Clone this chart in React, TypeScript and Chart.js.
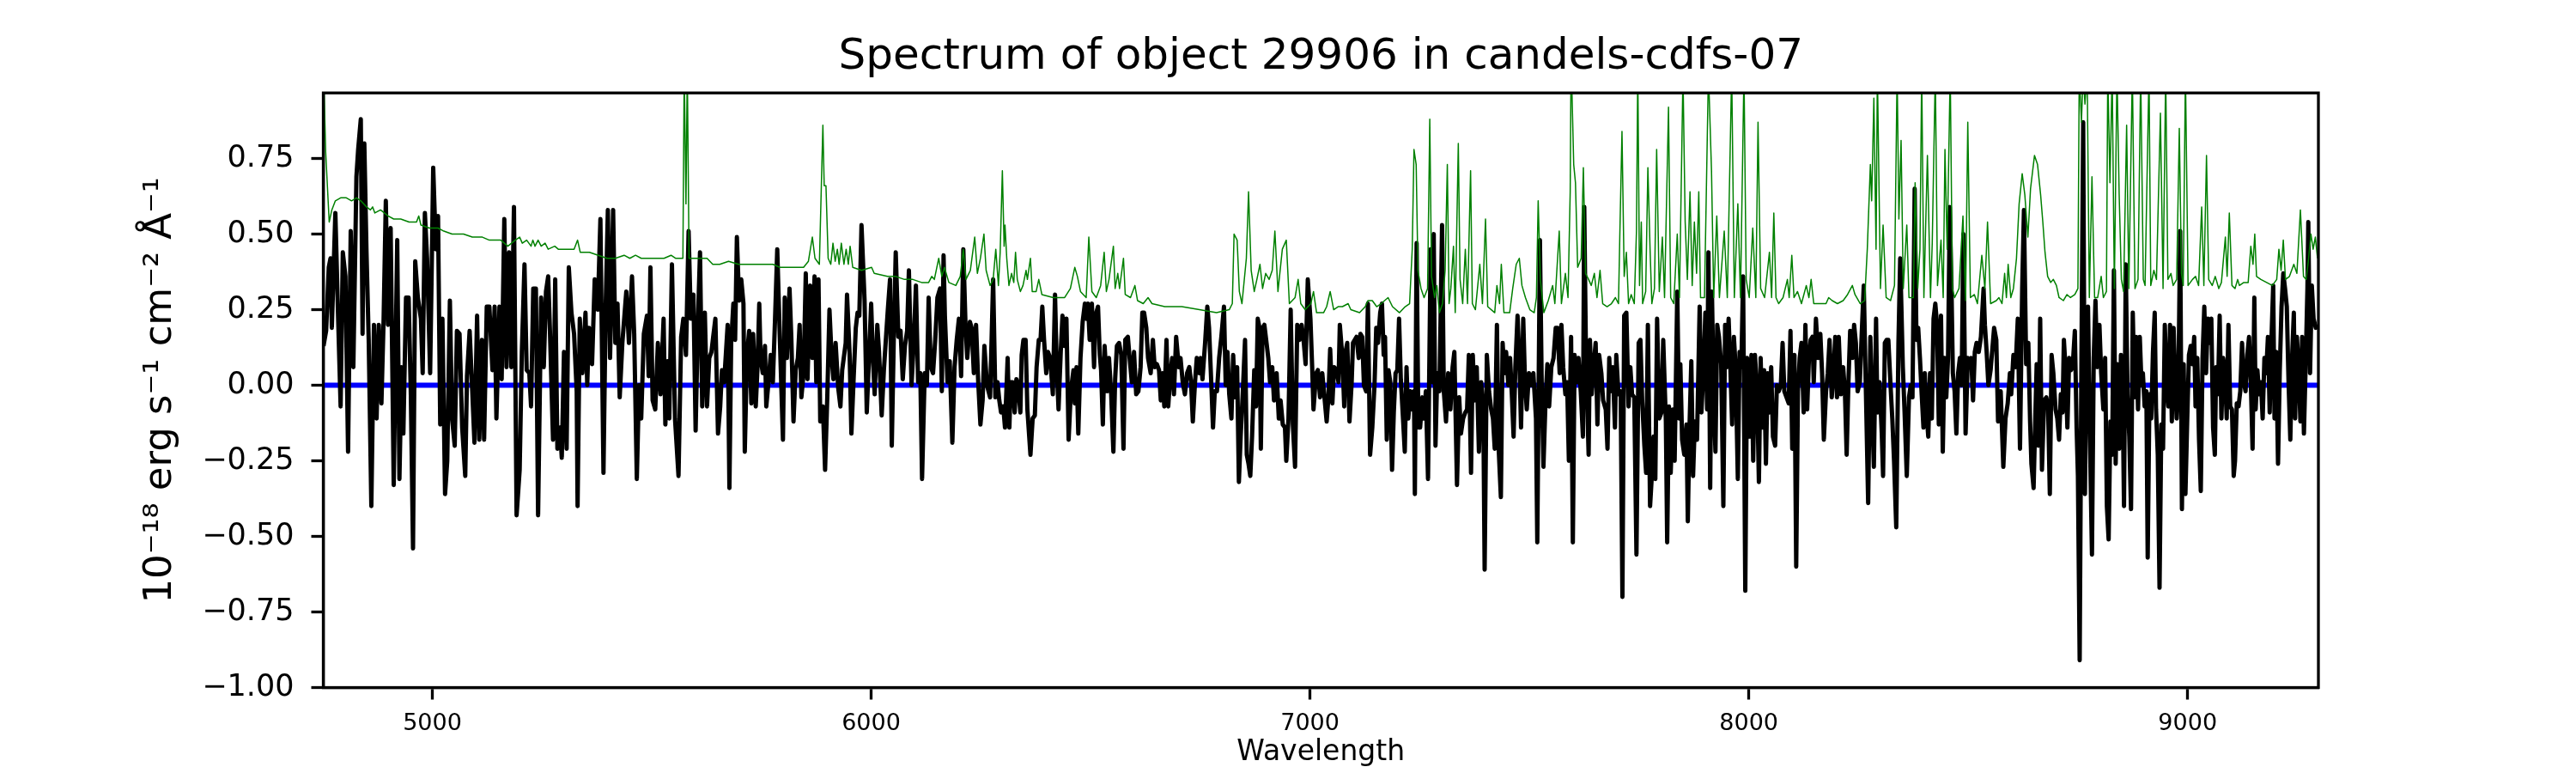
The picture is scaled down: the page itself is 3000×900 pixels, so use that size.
import { useEffect, useRef } from 'react';
import { Chart, registerables } from 'chart.js';

Chart.register(...registerables);

const FONT = "'DejaVu Sans', sans-serif";
const TITLE = 'Spectrum of object 29906 in candels-cdfs-07';
const X_LABEL = 'Wavelength';
const Y_LABEL = '10⁻¹⁸ erg s⁻¹ cm⁻² Å⁻¹';

const X_MIN = 4751.5;
const X_MAX = 9298;
const Y_MIN = -1.0;
const Y_MAX = 0.967;
const X_TICKS = [5000, 6000, 7000, 8000, 9000];
const Y_TICKS = [-1, -0.75, -0.5, -0.25, 0, 0.25, 0.5, 0.75];

// Observed flux [wavelength, flux]
const FLUX_A = [[4752,0.13],[4758,0.18],[4764,0.39],[4768,0.42],[4771,0.19],[4779,0.57],[4785,0.24],[4791,-0.07],[4796,0.44],[4802,0.36],[4808,-0.22],[4814,0.51],[4820,0.06],[4827,0.69],[4831,0.78],[4837,0.88],[4841,0.17],[4845,0.80],[4850,0.44],[4855,0.15],[4861,-0.40],[4867,0.20],[4873,-0.11],[4878,0.20],[4884,-0.06],[4889,0.22],[4894,0.61],[4899,0.20],[4905,0.52],[4912,-0.33],[4920,0.48],[4925,-0.31],[4930,0.06],[4934,-0.16],[4940,0.29],[4946,0.29],[4951,-0.03],[4956,-0.54],[4961,0.41],[4967,0.29],[4974,0.22],[4978,0.04],[4983,0.57],[4988,0.42],[4995,0.04],[5002,0.72],[5008,0.45],[5013,0.56],[5018,-0.13],[5023,0.22],[5029,-0.36],[5034,-0.25],[5040,0.28],[5045,-0.11],[5051,-0.20],[5056,0.18],[5062,0.17],[5068,-0.14],[5075,-0.30],[5079,0.03],[5085,0.18],[5091,-0.02],[5096,-0.19],[5102,0.23],[5107,-0.18],[5113,0.15],[5118,-0.18],[5124,0.26],[5130,0.26],[5137,0.05],[5142,0.26],[5146,-0.11],[5153,0.26],[5158,0.02],[5164,0.55],[5169,0.06],[5175,0.44],[5180,0.06],[5186,0.59],[5192,-0.43],[5199,-0.28],[5204,0.11],[5210,0.40],[5215,0.05],[5221,0.04],[5225,-0.07],[5230,0.32],[5236,0.32],[5241,-0.43],[5248,0.29],[5254,0.06],[5259,0.31],[5264,0.36],[5268,0.18],[5275,-0.18],[5280,0.35],[5285,-0.21],[5291,-0.14],[5295,-0.24],[5300,0.11],[5306,-0.21],[5311,0.39],[5317,0.24],[5323,0.17],[5329,-0.02],[5331,-0.40],[5336,0.22],[5342,0.04],[5349,0.24],[5353,0.00],[5357,0.19],[5364,0.07],[5370,0.35],[5377,0.25],[5383,0.55],[5390,-0.29],[5395,0.26],[5400,0.58],[5405,0.09],[5412,0.58],[5417,0.14],[5422,0.27],[5427,-0.04],[5433,0.14],[5442,0.31],[5448,0.14],[5455,0.36],[5460,0.17],[5466,-0.31],[5471,0.00],[5476,-0.11],[5482,0.17],[5489,0.23],[5493,0.03],[5497,0.39],[5502,-0.05]];
const FLUX_B = [[5508,-0.08],[5514,0.14],[5520,-0.03],[5527,0.22],[5531,-0.13],[5536,0.08],[5540,-0.11],[5546,0.40],[5553,-0.11],[5561,-0.30],[5567,0.16],[5572,0.22],[5578,0.10],[5584,0.51],[5589,0.22],[5595,0.30],[5600,-0.15],[5605,0.20],[5610,0.44],[5615,-0.07],[5621,0.24],[5626,-0.07],[5631,0.09],[5636,0.11],[5640,0.16],[5645,0.22],[5651,-0.16],[5656,-0.07],[5660,0.05],[5665,0.01],[5673,0.20],[5677,-0.34],[5681,0.14],[5686,0.27],[5690,0.15],[5694,0.49],[5699,0.28],[5704,0.35],[5709,0.27],[5712,-0.22],[5717,0.10],[5722,0.18],[5727,-0.06],[5731,0.17],[5737,-0.07],[5741,0.06],[5745,0.27],[5748,0.09],[5753,0.04],[5758,0.13],[5761,-0.07],[5766,0.01],[5771,0.10],[5776,0.01],[5781,0.22],[5786,0.45],[5792,0.15],[5799,-0.18],[5803,0.29],[5808,0.09],[5814,0.32],[5818,0.16],[5823,-0.12],[5828,0.05],[5833,0.09],[5837,0.20],[5841,-0.04],[5846,0.04],[5851,0.37],[5855,0.02],[5861,0.33],[5866,0.09],[5871,0.36],[5875,0.01],[5880,0.35],[5884,-0.12],[5890,-0.07],[5895,-0.28],[5900,-0.04],[5905,0.25],[5910,0.09],[5914,0.02],[5919,0.14],[5925,-0.01],[5930,-0.07],[5934,0.05],[5942,0.14],[5945,0.30],[5951,0.10],[5955,-0.16],[5960,0.02],[5965,0.19],[5969,0.24],[5973,0.23],[5978,0.53],[5985,0.28],[5990,-0.09],[5995,0.09],[6000,0.27],[6004,0.09],[6008,-0.03],[6014,0.20],[6018,0.11],[6024,-0.10],[6029,0.05],[6033,0.14],[6038,0.25],[6043,0.35],[6047,-0.20],[6052,0.19],[6056,0.44],[6062,0.16],[6067,0.18],[6072,0.02],[6077,0.13],[6082,0.18],[6086,0.38],[6092,0.00],[6097,0.14],[6102,0.33],[6107,0.01],[6112,0.04],[6116,-0.31],[6122,0.04],[6127,0.00],[6131,0.29],[6136,0.06],[6141,0.04],[6146,0.15],[6151,0.29],[6157,0.32],[6161,-0.02],[6165,0.43],[6168,0.23],[6174,0.01],[6179,0.08],[6185,-0.19],[6190,0.06],[6195,0.15],[6200,0.22],[6205,0.03],[6210,0.45],[6215,0.20],[6219,0.09],[6225,0.21],[6229,0.19],[6234,0.04],[6239,0.20],[6244,0.01],[6249,-0.13],[6254,-0.05],[6258,0.13],[6264,0.00]];
const FLUX_C = [[6271,-0.04],[6278,0.35],[6283,-0.04],[6288,0.01],[6292,-0.05],[6296,-0.09],[6301,-0.07],[6305,-0.14],[6311,0.09],[6315,-0.14],[6318,0.01],[6322,0.01],[6327,-0.09],[6331,0.02],[6335,0.00],[6340,-0.09],[6343,0.10],[6347,0.15],[6352,0.15],[6356,-0.08],[6363,-0.23],[6368,-0.11],[6373,-0.10],[6377,0.06],[6382,0.15],[6386,0.15],[6390,0.26],[6394,0.15],[6399,0.04],[6403,0.11],[6408,0.09],[6414,-0.03],[6419,0.30],[6423,0.06],[6427,-0.08],[6432,0.11],[6436,0.23],[6440,0.13],[6445,0.22],[6450,-0.18],[6455,-0.02],[6461,0.05],[6464,-0.06],[6468,0.06],[6472,-0.16],[6477,0.09],[6482,0.21],[6487,0.27],[6491,0.22],[6494,0.27],[6498,0.15],[6503,0.27],[6508,0.06],[6511,0.23],[6517,0.26],[6521,0.10],[6524,0.05],[6528,-0.13],[6532,0.13],[6538,-0.02],[6542,0.09],[6547,-0.03],[6552,-0.22],[6556,0.02],[6560,0.13],[6565,0.14],[6570,0.10],[6575,-0.21],[6579,0.15],[6585,0.16],[6589,0.09],[6594,0.01],[6599,0.11],[6604,-0.03],[6609,-0.02],[6614,0.06],[6618,0.24],[6622,0.24],[6627,0.19],[6631,0.09],[6637,0.04],[6642,0.15],[6646,0.06],[6651,0.07],[6656,0.05],[6660,-0.05],[6664,0.04],[6668,-0.07],[6673,0.15],[6677,-0.07],[6682,0.04],[6686,0.09],[6690,-0.03],[6695,0.16],[6701,0.06],[6705,0.09],[6710,0.01],[6715,-0.03],[6720,0.04],[6725,0.06],[6729,0.01],[6733,-0.12],[6738,0.01],[6742,0.09],[6748,0.04],[6751,0.09],[6755,0.02],[6761,0.14],[6766,0.26],[6770,0.19],[6775,0.01],[6779,-0.14],[6783,-0.02],[6788,-0.02],[6793,0.09],[6798,0.16],[6804,0.26],[6808,0.00],[6812,0.11],[6816,-0.03],[6821,-0.11],[6825,0.10],[6829,-0.04],[6834,0.06],[6838,-0.32],[6842,-0.17],[6847,-0.02],[6852,0.15],[6856,-0.23],[6860,-0.26],[6864,-0.30],[6868,-0.17],[6873,0.05],[6877,-0.07],[6881,0.22],[6885,0.19],[6888,-0.21],[6892,0.19],[6896,0.20],[6901,0.14],[6905,0.09],[6909,0.01],[6914,0.06],[6918,-0.05],[6924,0.04],[6929,-0.11],[6933,-0.05],[6938,-0.13],[6943,-0.14],[6946,-0.25],[6951,-0.11],[6956,0.25],[6961,-0.13],[6966,-0.27],[6971,0.20],[6976,0.15],[6981,0.20],[6986,0.14],[6990,0.07],[6995,0.35],[7001,0.22],[7005,0.06],[7008,-0.08],[7014,0.04],[7018,0.05],[7023,-0.04],[7028,0.04]];
const FLUX_D = [[7033,-0.04],[7038,-0.12],[7042,-0.04],[7046,0.12],[7051,-0.06],[7055,0.06],[7061,0.05],[7065,0.01],[7068,0.20],[7074,0.09],[7078,-0.07],[7081,0.11],[7085,0.14],[7090,-0.12],[7095,0.01],[7098,0.14],[7102,0.15],[7106,0.16],[7111,0.09],[7115,0.17],[7119,0.16],[7123,0.00],[7128,-0.02],[7132,0.27],[7137,-0.23],[7142,-0.14],[7147,0.00],[7151,0.19],[7155,0.14],[7160,0.24],[7164,0.27],[7168,0.10],[7171,0.16],[7175,-0.18],[7179,0.05],[7183,0.01],[7187,-0.28],[7191,-0.09],[7195,0.04],[7199,0.05],[7203,0.22],[7207,0.02],[7212,-0.11],[7216,-0.22],[7220,0.06],[7224,-0.11],[7229,-0.02],[7233,-0.08],[7237,-0.02],[7239,-0.36],[7243,0.47],[7247,-0.14],[7251,-0.14],[7256,-0.04],[7260,-0.11],[7264,-0.02],[7269,-0.31],[7275,0.45],[7279,0.01],[7282,0.50],[7286,-0.20],[7290,0.04],[7295,-0.02],[7301,0.53],[7305,-0.02],[7310,-0.12],[7315,0.04],[7320,-0.08],[7325,0.06],[7329,0.11],[7335,-0.33],[7340,-0.04],[7344,-0.16],[7349,-0.11],[7354,-0.09],[7358,-0.08],[7362,0.10],[7367,-0.29],[7371,0.10],[7375,-0.05],[7380,0.06],[7385,-0.22],[7390,0.01],[7395,-0.08],[7398,-0.61],[7403,0.10],[7408,-0.02],[7413,-0.08],[7417,-0.11],[7421,-0.21],[7426,0.20],[7430,-0.21],[7435,-0.37],[7439,0.14],[7443,0.04],[7447,0.11],[7452,0.00],[7456,0.09],[7460,-0.03],[7464,-0.17],[7468,0.06],[7473,0.23],[7477,0.09],[7481,-0.14],[7486,0.22],[7490,0.01],[7494,-0.08],[7499,0.04],[7504,0.00],[7509,0.04],[7515,-0.11],[7518,-0.52],[7524,0.48],[7528,0.01],[7532,-0.27],[7537,-0.04],[7541,0.07],[7545,-0.07],[7550,0.06],[7555,0.09],[7560,0.19],[7564,0.19],[7569,0.04],[7573,0.20],[7577,0.06],[7582,-0.03],[7586,0.01],[7590,-0.25],[7595,0.16],[7599,-0.52],[7603,0.10],[7608,0.01],[7612,0.09],[7617,-0.02],[7622,-0.17],[7625,0.59],[7629,0.09],[7635,-0.23],[7638,0.15],[7642,-0.03],[7646,0.06],[7651,0.14],[7655,-0.13],[7659,0.10],[7664,0.04],[7668,-0.05],[7674,-0.08],[7678,-0.21],[7682,0.09],[7685,-0.02],[7690,0.06],[7695,-0.14],[7698,0.10],[7703,-0.03],[7708,-0.02],[7712,-0.70],[7716,0.23],[7721,0.24],[7726,-0.07],[7730,0.06],[7734,-0.03],[7739,-0.04],[7744,-0.56],[7749,0.14],[7753,0.15],[7757,-0.05],[7762,-0.20],[7766,-0.29],[7770,0.20],[7775,-0.40],[7779,-0.30],[7783,-0.17],[7787,-0.31],[7791,0.22]];
const FLUX_E = [[7796,-0.11],[7801,-0.09],[7805,0.15],[7811,-0.12],[7814,-0.52],[7818,-0.07],[7822,-0.29],[7827,-0.08],[7831,-0.25],[7837,0.31],[7841,-0.11],[7844,0.07],[7848,-0.18],[7853,-0.23],[7858,-0.13],[7861,-0.45],[7865,-0.13],[7869,0.08],[7873,-0.30],[7877,-0.12],[7882,-0.18],[7888,0.26],[7892,-0.09],[7897,0.06],[7901,0.24],[7905,-0.08],[7908,0.44],[7912,-0.34],[7916,0.31],[7920,-0.04],[7924,-0.22],[7928,0.20],[7932,0.16],[7937,0.07],[7942,-0.40],[7946,0.20],[7950,0.06],[7954,0.22],[7958,0.06],[7962,-0.13],[7966,0.16],[7970,0.06],[7975,-0.31],[7979,0.11],[7983,0.06],[7987,0.36],[7992,-0.68],[7996,0.09],[8001,-0.17],[8006,0.10],[8010,-0.25],[8014,0.10],[8019,-0.02],[8023,-0.32],[8027,0.09],[8031,-0.14],[8035,0.05],[8039,-0.26],[8043,0.04],[8047,-0.09],[8051,0.06],[8055,-0.17],[8060,-0.20],[8064,0.00],[8068,-0.02],[8073,0.00],[8077,0.14],[8081,-0.02],[8086,-0.04],[8091,-0.06],[8095,0.18],[8099,-0.21],[8104,0.10],[8108,-0.60],[8112,-0.02],[8116,0.09],[8120,0.14],[8125,-0.09],[8129,0.20],[8133,-0.08],[8137,0.09],[8141,0.15],[8145,0.16],[8148,0.01],[8153,0.22],[8158,0.09],[8163,0.17],[8167,0.04],[8171,-0.18],[8176,-0.02],[8180,0.04],[8184,0.15],[8189,-0.04],[8193,0.04],[8197,0.16],[8201,-0.04],[8205,0.16],[8210,-0.03],[8215,0.06],[8219,-0.02],[8223,-0.23],[8227,0.01],[8231,0.18],[8236,0.09],[8240,0.20],[8244,0.14],[8248,-0.02],[8253,0.01],[8257,0.16],[8262,0.33],[8267,-0.03],[8272,-0.39],[8277,0.16],[8281,-0.08],[8285,-0.27],[8290,0.22],[8293,-0.09],[8298,0.01],[8303,-0.16],[8306,-0.30],[8310,0.14],[8314,0.15],[8318,0.15],[8323,0.00],[8327,-0.11],[8331,-0.25],[8336,-0.47],[8341,0.14],[8345,0.42],[8351,0.06],[8355,-0.09],[8360,-0.30],[8365,-0.04],[8369,0.00],[8373,-0.04],[8378,0.65],[8382,0.15],[8386,0.19],[8390,0.09],[8394,-0.03],[8398,-0.14],[8401,0.04],[8405,-0.09],[8409,-0.17],[8413,0.04],[8417,-0.11],[8421,0.22],[8425,0.27],[8429,0.20],[8433,-0.13],[8438,0.23],[8442,-0.22],[8446,0.09],[8450,-0.04],[8454,0.09],[8458,0.59],[8462,0.31],[8465,0.04],[8469,-0.02],[8473,-0.16],[8477,0.04],[8481,0.09],[8485,0.00],[8489,0.50],[8494,-0.16],[8499,0.09],[8503,0.06],[8507,0.09],[8511,-0.05],[8515,0.11],[8519,0.14],[8524,0.11],[8529,0.16],[8535,0.32],[8538,0.20],[8542,0.11],[8546,0.00],[8551,0.05]];
const FLUX_F = [[8559,0.19],[8564,0.15],[8568,-0.12],[8574,-0.02],[8580,-0.27],[8585,-0.11],[8590,-0.06],[8595,0.04],[8598,-0.03],[8603,0.10],[8608,0.06],[8613,0.22],[8618,-0.21],[8623,0.32],[8627,0.58],[8632,0.07],[8637,0.14],[8641,-0.12],[8644,-0.26],[8649,-0.34],[8652,-0.16],[8656,0.07],[8660,-0.20],[8664,0.22],[8668,-0.28],[8673,-0.05],[8678,-0.04],[8682,-0.07],[8686,-0.36],[8690,0.10],[8694,0.04],[8699,-0.08],[8703,-0.11],[8707,-0.18],[8711,-0.03],[8715,-0.09],[8718,0.15],[8722,0.05],[8726,-0.14],[8730,0.09],[8734,0.05],[8738,0.06],[8743,0.18],[8747,-0.14],[8750,-0.30],[8754,-0.91],[8758,0.09],[8762,0.87],[8766,-0.36],[8769,0.06],[8773,0.26],[8777,-0.14],[8782,-0.56],[8786,0.09],[8790,0.28],[8794,0.06],[8799,0.20],[8803,0.04],[8808,-0.08],[8812,0.09],[8816,-0.40],[8820,-0.51],[8824,-0.12],[8828,-0.23],[8832,0.38],[8836,-0.26],[8840,0.07],[8844,-0.21],[8848,0.10],[8852,-0.04],[8855,-0.40],[8859,0.40],[8863,-0.03],[8867,-0.17],[8871,-0.41],[8875,0.24],[8879,-0.04],[8883,0.16],[8887,-0.08],[8891,0.16],[8895,0.00],[8898,0.04],[8902,-0.07],[8906,-0.02],[8909,-0.57],[8913,-0.03],[8917,-0.11],[8921,0.11],[8925,0.24],[8928,-0.08],[8932,-0.23],[8936,-0.67],[8940,-0.13],[8944,-0.21],[8948,0.20],[8952,0.01],[8956,-0.07],[8960,0.20],[8964,-0.12],[8968,0.19],[8972,0.00],[8975,-0.11],[8979,0.01],[8983,0.51],[8987,-0.41],[8991,0.07],[8995,-0.36],[8999,-0.12],[9003,0.10],[9007,0.13],[9011,0.07],[9015,0.16],[9018,-0.07],[9022,0.09],[9026,-0.18],[9030,-0.35],[9034,0.09],[9038,0.26],[9042,0.04],[9046,0.22],[9050,0.14],[9054,0.22],[9058,-0.14],[9062,-0.23],[9065,0.06],[9069,-0.03],[9073,0.23],[9077,-0.11],[9081,0.09],[9085,0.05],[9089,-0.11],[9093,0.20],[9097,-0.07],[9101,-0.08],[9105,-0.30],[9108,-0.25],[9112,-0.06],[9116,-0.07],[9120,-0.02],[9124,0.14],[9128,0.01],[9132,-0.02],[9136,0.10],[9140,0.16],[9144,0.01],[9148,-0.21],[9152,0.29],[9155,-0.08],[9159,0.05],[9163,-0.03],[9167,0.01],[9171,-0.11],[9175,0.09],[9179,0.04],[9183,0.16],[9187,-0.09],[9191,0.15],[9195,0.33],[9198,-0.11],[9202,0.11],[9206,-0.26],[9210,0.05],[9214,0.26],[9218,0.37],[9222,0.32],[9226,0.26],[9230,0.01],[9234,-0.18],[9238,0.09],[9242,0.24],[9245,-0.11],[9249,0.16],[9253,0.06],[9257,-0.12],[9261,0.16],[9265,-0.16],[9269,0.07],[9273,0.32],[9275,0.54],[9279,0.04],[9283,0.33],[9287,0.22],[9292,0.19],[9296,0.20]];

// Noise / sky spectrum [wavelength, flux]
const NOISE_A = [[4751,1.10],[4757,0.77],[4765,0.54],[4771,0.58],[4779,0.61],[4791,0.62],[4804,0.62],[4816,0.61],[4827,0.62],[4837,0.61],[4850,0.59],[4859,0.58],[4864,0.59],[4869,0.57],[4882,0.58],[4899,0.56],[4912,0.55],[4928,0.55],[4947,0.54],[4964,0.54],[4969,0.56],[4974,0.53],[4993,0.52],[5013,0.52],[5026,0.51],[5045,0.50],[5071,0.50],[5091,0.49],[5114,0.49],[5130,0.48],[5156,0.48],[5172,0.46],[5189,0.48],[5199,0.49],[5205,0.47],[5215,0.48],[5225,0.46],[5229,0.48],[5234,0.46],[5241,0.48],[5248,0.46],[5257,0.47],[5264,0.45],[5279,0.46],[5287,0.45],[5306,0.45],[5323,0.45],[5331,0.48],[5337,0.44],[5358,0.44],[5378,0.43],[5398,0.42],[5417,0.42],[5437,0.43],[5450,0.42],[5463,0.43],[5476,0.42],[5502,0.42]];
const NOISE_B = [[5528,0.42],[5544,0.43],[5554,0.42],[5567,0.42],[5571,0.42],[5574,1.05],[5578,0.60],[5581,1.05],[5585,0.42],[5600,0.42],[5613,0.42],[5626,0.42],[5639,0.40],[5655,0.40],[5675,0.41],[5698,0.40],[5724,0.40],[5750,0.40],[5776,0.40],[5792,0.39],[5815,0.39],[5846,0.39],[5857,0.41],[5866,0.49],[5872,0.42],[5882,0.40],[5887,0.69],[5890,0.86],[5893,0.66],[5897,0.66],[5902,0.42],[5908,0.40],[5913,0.47],[5918,0.41],[5923,0.45],[5927,0.40],[5932,0.47],[5938,0.40],[5943,0.45],[5948,0.40],[5952,0.46],[5958,0.39],[5978,0.38],[6001,0.39],[6007,0.37],[6037,0.36],[6056,0.36],[6076,0.35],[6095,0.35],[6115,0.34],[6131,0.34],[6138,0.36],[6144,0.35],[6154,0.42],[6161,0.36],[6167,0.39],[6177,0.34],[6193,0.33],[6203,0.36],[6210,0.45],[6216,0.35],[6226,0.38],[6236,0.49],[6242,0.37],[6249,0.42],[6257,0.50],[6262,0.38]];
const NOISE_C = [[6271,0.33],[6278,0.35],[6284,0.45],[6290,0.33],[6294,0.44],[6299,0.71],[6303,0.46],[6305,0.53],[6309,0.42],[6314,0.33],[6320,0.37],[6325,0.34],[6329,0.44],[6333,0.35],[6340,0.31],[6346,0.33],[6353,0.38],[6356,0.35],[6363,0.42],[6367,0.31],[6376,0.31],[6382,0.35],[6389,0.30],[6415,0.29],[6441,0.29],[6454,0.32],[6464,0.39],[6470,0.36],[6477,0.31],[6490,0.29],[6496,0.49],[6503,0.31],[6513,0.29],[6523,0.33],[6531,0.44],[6536,0.31],[6542,0.35],[6552,0.46],[6556,0.32],[6562,0.37],[6566,0.32],[6575,0.42],[6579,0.30],[6591,0.29],[6601,0.33],[6607,0.28],[6620,0.27],[6631,0.29],[6640,0.27],[6669,0.26],[6708,0.26],[6748,0.25],[6787,0.24],[6816,0.25],[6823,0.27],[6827,0.50],[6834,0.48],[6839,0.31],[6845,0.27],[6855,0.42],[6860,0.64],[6866,0.38],[6873,0.31],[6879,0.35],[6886,0.40],[6892,0.32],[6899,0.37],[6907,0.35],[6914,0.38],[6920,0.51],[6927,0.31],[6937,0.45],[6946,0.48],[6953,0.27],[6966,0.29],[6973,0.35],[6979,0.27],[6989,0.25],[7002,0.27],[7008,0.31],[7015,0.24],[7031,0.24]];
const NOISE_D = [[7038,0.26],[7046,0.31],[7054,0.25],[7064,0.26],[7074,0.26],[7087,0.27],[7093,0.25],[7113,0.24],[7126,0.26],[7132,0.28],[7142,0.28],[7152,0.26],[7162,0.27],[7178,0.29],[7188,0.26],[7204,0.24],[7217,0.26],[7227,0.27],[7233,0.45],[7237,0.78],[7242,0.73],[7246,0.38],[7253,0.32],[7260,0.29],[7268,0.32],[7273,0.88],[7277,0.36],[7284,0.29],[7289,0.33],[7295,0.24],[7302,0.27],[7308,0.38],[7313,0.73],[7317,0.27],[7321,0.32],[7327,0.46],[7331,0.24],[7338,0.80],[7342,0.35],[7348,0.27],[7354,0.45],[7359,0.27],[7366,0.71],[7370,0.27],[7377,0.25],[7387,0.40],[7393,0.27],[7400,0.55],[7405,0.26],[7421,0.24],[7426,0.33],[7432,0.27],[7436,0.40],[7442,0.24],[7455,0.24],[7462,0.32],[7470,0.40],[7477,0.42],[7483,0.33],[7491,0.29],[7501,0.25],[7511,0.24],[7516,0.29],[7520,0.61],[7525,0.35],[7533,0.24],[7543,0.28],[7553,0.33],[7558,0.27],[7568,0.51],[7573,0.27],[7582,0.37],[7588,0.29],[7593,0.64],[7595,1.09],[7601,0.73],[7605,0.67],[7610,0.39],[7618,0.42],[7623,0.72],[7628,0.37],[7635,0.35],[7641,0.33],[7648,0.37],[7654,0.29],[7661,0.38],[7667,0.27],[7677,0.26],[7687,0.27],[7696,0.29],[7703,0.27],[7706,0.49],[7711,0.84],[7716,0.36],[7721,0.44],[7726,0.27],[7732,0.30],[7739,0.27],[7744,0.51],[7747,1.05],[7751,0.33],[7755,0.54],[7758,0.27],[7765,0.31],[7770,0.72],[7775,0.45],[7779,0.27],[7785,0.32],[7790,0.78],[7796,0.31]];
const NOISE_E = [[7803,0.49],[7808,0.29],[7817,0.92],[7822,0.29],[7829,0.27],[7837,0.50],[7842,0.29],[7850,1.03],[7855,0.54],[7860,0.35],[7866,0.64],[7871,0.33],[7876,0.54],[7881,0.37],[7886,0.64],[7890,0.29],[7899,0.29],[7908,1.04],[7915,0.71],[7920,0.29],[7927,0.56],[7933,0.29],[7944,0.51],[7951,0.29],[7961,1.04],[7967,0.29],[7975,0.60],[7981,0.29],[7989,1.04],[7994,0.35],[8001,0.29],[8009,0.52],[8016,0.29],[8021,0.87],[8027,0.32],[8036,0.29],[8047,0.44],[8052,0.29],[8057,0.57],[8062,0.29],[8068,0.27],[8078,0.29],[8088,0.35],[8092,0.29],[8098,0.43],[8103,0.29],[8111,0.31],[8120,0.27],[8131,0.33],[8137,0.29],[8142,0.35],[8148,0.27],[8163,0.27],[8176,0.27],[8182,0.29],[8190,0.28],[8202,0.27],[8215,0.28],[8225,0.30],[8236,0.33],[8242,0.30],[8254,0.27],[8264,0.28],[8270,0.45],[8277,0.73],[8280,0.61],[8285,0.95],[8290,0.45],[8293,1.04],[8300,0.32],[8306,0.53],[8313,0.29],[8323,0.28],[8332,0.33],[8338,1.04],[8342,0.55],[8347,0.81],[8352,0.32],[8360,0.53],[8365,0.29],[8375,0.29],[8379,0.67],[8385,0.32],[8390,0.45],[8394,1.04],[8399,0.29],[8407,0.76],[8414,0.29],[8418,0.47],[8425,1.04],[8430,0.33],[8438,0.48],[8443,0.29],[8447,0.78],[8452,0.45],[8459,1.04],[8464,0.32],[8469,0.29],[8479,0.32],[8488,0.56],[8494,0.28],[8499,0.87],[8505,0.29],[8514,0.30],[8521,0.27],[8531,0.43],[8538,0.32],[8544,0.54],[8551,0.27]];
const NOISE_F = [[8564,0.28],[8570,0.29],[8577,0.27],[8583,0.37],[8587,0.29],[8591,0.40],[8597,0.29],[8603,0.32],[8610,0.42],[8616,0.60],[8623,0.70],[8629,0.63],[8636,0.49],[8642,0.65],[8651,0.76],[8658,0.73],[8665,0.63],[8670,0.54],[8675,0.44],[8681,0.36],[8688,0.34],[8694,0.35],[8701,0.33],[8707,0.29],[8717,0.28],[8725,0.30],[8733,0.29],[8743,0.30],[8750,0.32],[8753,1.04],[8758,0.87],[8762,1.04],[8766,0.93],[8771,1.04],[8776,0.29],[8782,0.69],[8788,0.29],[8795,0.29],[8803,0.36],[8808,0.29],[8815,0.31],[8818,1.04],[8823,0.67],[8828,1.04],[8833,0.32],[8839,1.04],[8844,0.63],[8849,0.35],[8854,0.31],[8861,0.86],[8866,0.32],[8874,1.04],[8880,0.32],[8887,0.35],[8893,1.04],[8899,0.35],[8903,0.33],[8912,1.04],[8916,0.33],[8923,0.38],[8929,0.35],[8938,0.90],[8944,0.32],[8950,1.04],[8955,0.35],[8962,0.37],[8967,0.33],[8975,0.35],[8981,0.85],[8986,0.37],[8990,0.33],[8995,1.04],[9001,0.33],[9011,0.35],[9018,0.36],[9025,0.33],[9032,0.59],[9037,0.33],[9043,0.76],[9048,0.35],[9056,0.33],[9063,0.36],[9071,0.32],[9077,0.34],[9086,0.49],[9090,0.36],[9095,0.57],[9101,0.33],[9108,0.32],[9114,0.35],[9118,0.33],[9128,0.34],[9138,0.34],[9144,0.46],[9149,0.40],[9153,0.50],[9157,0.36],[9167,0.35],[9180,0.34],[9193,0.33],[9203,0.35],[9208,0.45],[9213,0.38],[9218,0.48],[9223,0.35],[9232,0.36],[9242,0.40],[9249,0.37],[9257,0.58],[9264,0.36],[9270,0.35],[9275,0.41],[9281,0.50],[9286,0.45],[9291,0.49],[9296,0.42]];

// Model [wavelength, flux]
const MODEL = [[4751.5,0.0],[9298,0.0]];

const toXY = (rows: number[][]) => rows.map(([x, y]) => ({ x, y }));
const fmtY = (v: number) => (v < 0 ? '\u2212' + Math.abs(v).toFixed(2) : v.toFixed(2));

export default function App() {
  const ref = useRef<HTMLCanvasElement>(null);

  useEffect(() => {
    if (!ref.current) return;
    const frame = {
      id: 'frame',
      afterDatasetsDraw(chart: any) {
        const { ctx, chartArea: a } = chart;
        ctx.save();
        ctx.strokeStyle = '#000';
        ctx.lineWidth = 3.3;
        ctx.strokeRect(a.left, a.top, a.right - a.left, a.bottom - a.top);
        ctx.restore();
      },
    };
    const chart = new Chart(ref.current, {
      type: 'line',
      data: {
        datasets: [
          { label: 'Noise', data: toXY([...NOISE_A, ...NOISE_B, ...NOISE_C, ...NOISE_D, ...NOISE_E, ...NOISE_F]), borderColor: '#008000', borderWidth: 1.5, order: 0 },
          { label: 'Flux', data: toXY([...FLUX_A, ...FLUX_B, ...FLUX_C, ...FLUX_D, ...FLUX_E, ...FLUX_F]), borderColor: '#000000', borderWidth: 5, order: 1 },
          { label: 'Model', data: toXY(MODEL), borderColor: '#0000ff', borderWidth: 6, order: 2 },
        ],
      },
      options: {
        animation: false,
        responsive: false,
        devicePixelRatio: 1,
        events: [],
        elements: {
          point: { radius: 0, hoverRadius: 0 },
          line: { tension: 0, borderJoinStyle: 'round', borderCapStyle: 'butt', fill: false },
        },
        layout: { padding: { left: 0, right: 300, top: 0, bottom: 0 } },
        plugins: {
          legend: { display: false },
          tooltip: { enabled: false },
          title: {
            display: true,
            fullSize: false,
            text: TITLE,
            color: '#000',
            font: { family: FONT, size: 50, weight: 'normal', lineHeight: 1.2 },
            padding: { top: 36.7, bottom: 11.5 },
          },
        },
        scales: {
          x: {
            type: 'linear',
            min: X_MIN,
            max: X_MAX,
            afterBuildTicks: (s: any) => { s.ticks = X_TICKS.map((value) => ({ value })); },
            afterFit: (s: any) => { s.height = 99.5; },
            ticks: {
              color: '#000',
              font: { family: FONT, size: 27 },
              padding: 12,
              maxRotation: 0,
              autoSkip: false,
              callback: (v: any) => String(v),
            },
            grid: { drawOnChartArea: false, drawTicks: true, tickLength: 14, tickWidth: 3.3, tickColor: '#000' },
            border: { display: true, color: '#000', width: 3.3 },
            title: {
              display: true,
              text: X_LABEL,
              color: '#000',
              font: { family: FONT, size: 33, lineHeight: 1.2 },
              padding: { top: 0, bottom: 3.6 },
            },
          },
          y: {
            type: 'linear',
            min: Y_MIN,
            max: Y_MAX,
            afterBuildTicks: (s: any) => { s.ticks = Y_TICKS.map((value) => ({ value })); },
            afterFit: (s: any) => { s.width = 376.5; },
            ticks: {
              color: '#000',
              font: { family: FONT, size: 35 },
              padding: 20,
              autoSkip: false,
              callback: (v: any) => fmtY(Number(v)),
            },
            grid: { drawOnChartArea: false, drawTicks: true, tickLength: 14, tickWidth: 3.3, tickColor: '#000' },
            border: { display: true, color: '#000', width: 3.3 },
            title: {
              display: true,
              text: Y_LABEL,
              color: '#000',
              font: { family: FONT, size: 45, lineHeight: 1.2 },
              padding: { top: 160, bottom: 0 },
            },
          },
        },
      },
      plugins: [frame],
    } as any);
    return () => chart.destroy();
  }, []);

  return (
    <div style={{ position: 'fixed', left: 0, top: 0, width: 3000, height: 900, background: '#fff' }}>
      <canvas ref={ref} width={3000} height={900} style={{ width: 3000, height: 900, display: 'block' }} />
    </div>
  );
}
